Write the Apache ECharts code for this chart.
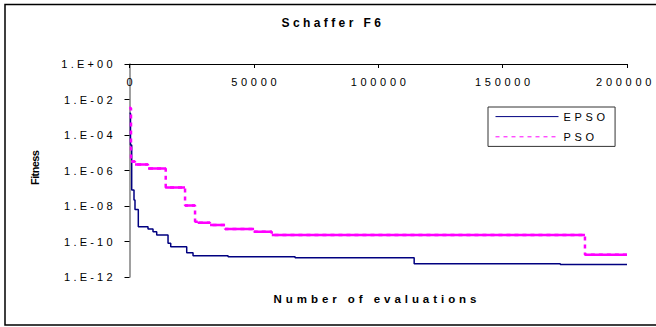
<!DOCTYPE html>
<html>
<head>
<meta charset="utf-8">
<script src="https://cdn.jsdelivr.net/npm/echarts@6/dist/echarts.min.js"></script>
<style>
html,body{margin:0;padding:0;background:#fff;}
#chart{width:656px;height:327px;}
</style>
</head>
<body>
<div id="chart"></div>
<script>
// ---- data ----
const chartTitle = 'Schaffer F6';
const xAxisName = 'Number of evaluations';
const yAxisName = 'Fitness';
const seriesNames = ['EPSO', 'PSO'];

const epsoEvals   = [0, 400, 885, 1810, 2210, 3540, 7440, 9450, 10940, 15490, 16570, 23000, 25540, 39620, 66570, 114440, 173170, 200000];
const epsoFitness = [1.7e-3, 2.7e-5, 8e-8, 2.2e-8, 6.3e-9, 6.8e-10, 5e-10, 3.5e-10, 2.3e-10, 8e-11, 5e-11, 2.3e-11, 1.6e-11, 1.4e-11, 1.2e-11, 5.6e-12, 5e-12, 5e-12];

const psoEvals   = [0, 600, 2200, 7440, 14560, 22330, 26350, 27430, 32380, 38410, 50080, 57200, 183100, 200000];
const psoFitness = [3.3e-3, 3.2e-6, 2.2e-6, 1.3e-6, 1.1e-7, 1.05e-8, 1.3e-9, 1.15e-9, 8.5e-10, 5e-10, 3.5e-10, 2.3e-10, 1.8e-11, 1.8e-11];

const xMin = 0, xMax = 200000, xInterval = 50000;
const yMin = 1e-12, yMax = 1, yInterval = 2;

// ---- build series data ----
const epsoData = epsoEvals.map((x, i) => [x, epsoFitness[i]]);
const psoData = psoEvals.map((x, i) => [x, psoFitness[i]]);
// solid horizontal runs of PSO (vertical drops stay dashed)
const psoFlat = [];
for (let i = 0; i < psoEvals.length - 1; i++) {
  psoFlat.push([psoEvals[i], psoFitness[i]]);
  psoFlat.push([psoEvals[i + 1], psoFitness[i]]);
  psoFlat.push([psoEvals[i + 1], '-']);
}

const FONT = '"Liberation Sans", Arial, sans-serif';

function yLabel(v) {
  const e = Math.round(Math.log10(v));
  const a = Math.abs(e);
  return '1.E' + (e < 0 ? '-' : '+') + (a < 10 ? '0' : '') + a;
}
function xLabel(v) { return String(Math.round(v)); }

const chart = echarts.init(document.getElementById('chart'), null, {renderer: 'svg'});
const option = {
  animation: false,
  backgroundColor: '#ffffff',
  grid: {left: 129.5, right: 29, top: 64, bottom: 50, containLabel: false},
  xAxis: {
    type: 'value', position: 'top', min: xMin, max: xMax, interval: xInterval,
    axisLine: {show: true, onZero: false, lineStyle: {color: '#000', width: 1}},
    axisTick: {show: true, inside: true, length: 4, lineStyle: {color: '#000'}},
    axisLabel: {formatter: xLabel, inside: true, margin: 12, color: '#000', fontSize: 11, fontFamily: FONT, showMaxLabel: true, showMinLabel: true},
    splitLine: {show: false}
  },
  yAxis: {
    type: 'log', logBase: 10, min: yMin, max: yMax, interval: yInterval,
    axisLine: {show: true, onZero: false, lineStyle: {color: '#808080', width: 1.5}},
    axisTick: {show: true, length: 5, lineStyle: {color: '#000'}},
    axisLabel: {formatter: yLabel, margin: 17, color: '#000', fontSize: 11, fontFamily: FONT},
    splitLine: {show: false}, minorTick: {show: false}
  },
  legend: {
    orient: 'vertical', left: 488, top: 107,
    itemWidth: 63, itemHeight: 14, itemGap: 9,
    padding: [4, 21, 4, 7],
    borderColor: '#333', borderWidth: 1, backgroundColor: '#fff', borderRadius: 0,
    textStyle: {fontSize: 11, color: '#000', fontFamily: FONT},
    data: [
      {name: seriesNames[0], lineStyle: {width: 1}, itemStyle: {opacity: 0}},
      {name: seriesNames[1], lineStyle: {width: 1}, itemStyle: {opacity: 0}}
    ]
  },
  series: [
    {
      name: seriesNames[0], type: 'line', step: 'end', symbol: 'none', data: epsoData,
      lineStyle: {color: '#000080', width: 1.5}, itemStyle: {color: '#000080'}, z: 2
    },
    {
      name: seriesNames[1], type: 'line', step: 'end', symbol: 'none', data: psoData,
      lineStyle: {color: '#ff00ff', width: 2.5, type: [4, 4]}, itemStyle: {color: '#ff00ff'}, z: 3
    },
    {
      type: 'line', symbol: 'none', data: psoFlat, connectNulls: false, silent: true,
      lineStyle: {color: '#ff00ff', width: 2.5}, itemStyle: {color: '#ff00ff'}, z: 3
    }
  ],
  graphic: [
    {type: 'rect', shape: {x: 5, y: 4.5, width: 660, height: 320.5}, style: {fill: 'none', stroke: '#000', lineWidth: 1.5}, silent: true},
    {type: 'text', x: 331.2, y: 22.6, style: {text: chartTitle, font: 'bold 12px ' + FONT, fill: '#000', textAlign: 'center', textVerticalAlign: 'middle'}},
    {type: 'text', x: 375, y: 299.2, style: {text: xAxisName, font: 'bold 11.5px ' + FONT, fill: '#000', textAlign: 'center', textVerticalAlign: 'middle'}},
    {type: 'text', x: 34.5, y: 167.5, rotation: Math.PI / 2, style: {text: yAxisName, font: 'bold 11px ' + FONT, fill: '#000', textAlign: 'center', textVerticalAlign: 'middle'}}
  ]
};
chart.setOption(option);

// letter spacing as in the reference (wide Excel-style tracking)
function spacingFor(s) {
  if (s === chartTitle) return 3.4;
  if (s === xAxisName) return 3.95;
  if (s === yAxisName) return -0.6;
  if (seriesNames.indexOf(s) >= 0) return 3.7;
  if (/^1\.E/.test(s)) return 3.2;
  if (/^\d+$/.test(s)) return 3.7;
  return 0;
}
function applySpacing() {
  const dom = document.getElementById('chart');
  const box = dom.getBoundingClientRect();
  dom.querySelectorAll('text').forEach(t => {
    const s = t.textContent;
    const sp = spacingFor(s);
    if (!sp) return;
    t.setAttribute('letter-spacing', sp);
    t.style.letterSpacing = sp + 'px';
    const anchor = t.getAttribute('text-anchor') || getComputedStyle(t).textAnchor;
    let dx = 0;
    if (anchor === 'middle') dx = sp / 2;
    else if (anchor === 'end') dx = sp;
    t.setAttribute('dx', dx);
    // keep the text inside the picture
    const r = t.getBoundingClientRect();
    const over = r.right - (box.left + box.width - 1);
    if (over > 0) t.setAttribute('dx', dx - over);
  });
}
chart.on('finished', applySpacing);
applySpacing();
setTimeout(applySpacing, 50);
setTimeout(applySpacing, 300);
</script>
</body>
</html>
